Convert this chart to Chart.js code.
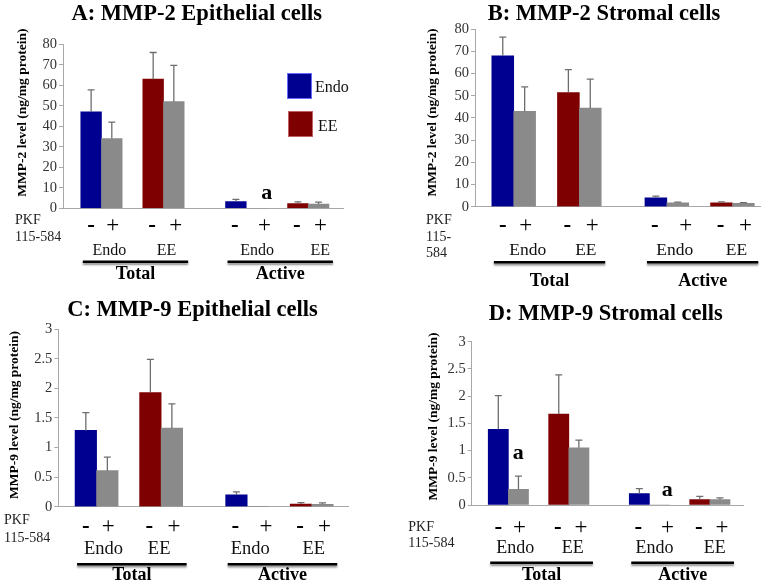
<!DOCTYPE html>
<html lang="en">
<head>
<meta charset="UTF-8">
<title>MMP-2 / MMP-9 levels</title>
<script src="https://cdn.jsdelivr.net/npm/chart.js"></script>
<style>
  body { margin: 0; background: #fff; }
  #wrap { position: relative; width: 774px; height: 585px; }
  canvas { position: absolute; }
</style>
</head>
<body>
<div id="wrap">
  <canvas id="cA" width="387" height="290" style="left:0;top:0"></canvas>
  <canvas id="cB" width="387" height="290" style="left:387px;top:0"></canvas>
  <canvas id="cC" width="387" height="295" style="left:0;top:290px"></canvas>
  <canvas id="cD" width="387" height="295" style="left:387px;top:290px"></canvas>
</div>
<script>
// bar order: Total Endo -, Total Endo +, Total EE -, Total EE +, Active Endo -, Active Endo +, Active EE -, Active EE +
const groups = ['Endo', 'EE', 'Endo', 'EE'];
const blocks = ['Total', 'Active'];
const pkfSigns = ['-', '+'];
const legendLabels = ['Endo', 'EE'];

const mmp2EpiValues = [47, 34, 63, 52, 3.3, 0, 2.3, 2.1];
const mmp2EpiErrTop = [57.8, 42, 76, 69.7, 4.4, 0, 3.1, 3.0];
const mmp2StrValues = [68, 43, 51.5, 44.5, 4, 1.8, 1.8, 1.5];
const mmp2StrErrTop = [76.5, 54, 61.8, 57.5, 4.8, 2.1, 2.2, 1.8];
const mmp9EpiValues = [1.29, 0.61, 1.93, 1.33, 0.2, 0, 0.045, 0.04];
const mmp9EpiErrTop = [1.59, 0.84, 2.49, 1.74, 0.25, 0, 0.07, 0.065];
const mmp9StrValues = [1.39, 0.29, 1.67, 1.05, 0.21, 0, 0.1, 0.1];
const mmp9StrErrTop = [2.01, 0.53, 2.39, 1.19, 0.3, 0, 0.16, 0.13];

const BLUE = '#000090', RED = '#7e0000', GRAY = '#8a8a8a';
const slotColors = [BLUE, GRAY, RED, GRAY, BLUE, GRAY, RED, GRAY];
const serif = '"Liberation Serif", "Times New Roman", serif';
Chart.defaults.font.family = serif;

// slot on the x scale: pairs touch, one empty slot between pairs, two between Total and Active
function slotPos(i) {
  const g = Math.floor(i / 2);
  return g * 3 + (g >= 2 ? 1 : 0) + (i % 2);
}
const signDx = [0, 1, -1, 2, -1, 8, -1, 2];

const panels = [
  { id: 'cA', W: 387, H: 290, title: 'A: MMP-2 Epithelial cells', yTitle: 'MMP-2 level (ng/mg protein)',
    values: mmp2EpiValues, errTop: mmp2EpiErrTop, yMax: 80, yStep: 10,
    axisX: 63, top: 44.3, bottom: 208.3, right: 343, xMin: -1.36, xMax: 12.18,
    titleXY: [196.7, 14], yTitleXY: [22.7, 112.6],
    signY: 226, groupY: 250.7, lineY: 261.7, blockY: 274, groupFont: 16, groupDx: [8, 3, 11, 12],
    pkfX: 15, pkfY: [220.7, 237], pkfLines: ['PKF', '115-584'],
    marks: [[266.7, 193]], legend: true },
  { id: 'cB', W: 387, H: 290, title: 'B: MMP-2 Stromal cells', yTitle: 'MMP-2 level (ng/mg protein)',
    values: mmp2StrValues, errTop: mmp2StrErrTop, yMax: 80, yStep: 10,
    axisX: 88, top: 29.3, bottom: 206.7, right: 373, xMin: -1.27, xMax: 11.76,
    titleXY: [217, 14], yTitleXY: [45.7, 112.5],
    signY: 226, groupY: 250.7, lineY: 262.3, blockY: 281, groupFont: 17.5, groupDx: [14, 6.5, 8, 4],
    pkfX: 39, pkfY: [220, 237, 253.7], pkfLines: ['PKF', '115-', '584'],
    marks: [], legend: false },
  { id: 'cC', W: 387, H: 295, title: 'C: MMP-9 Epithelial cells', yTitle: 'MMP-9 level (ng/mg protein)',
    values: mmp9EpiValues, errTop: mmp9EpiErrTop, yMax: 3, yStep: 0.5,
    axisX: 58.3, top: 39.3, bottom: 216.7, right: 348.3, xMin: -1.28, xMax: 12.2,
    titleXY: [192.5, 20], yTitleXY: [15, 125],
    signY: 237.3, groupY: 259.3, lineY: 274.3, blockY: 285.7, groupFont: 18.5, groupDx: [7, -2, 3, 2],
    pkfX: 4, pkfY: [230, 248.3], pkfLines: ['PKF', '115-584'],
    marks: [], legend: false },
  { id: 'cD', W: 387, H: 295, title: 'D: MMP-9 Stromal cells', yTitle: 'MMP-9 level (ng/mg protein)',
    values: mmp9StrValues, errTop: mmp9StrErrTop, yMax: 3, yStep: 0.5,
    axisX: 84.7, top: 51.7, bottom: 215, right: 356.3, xMin: -1.32, xMax: 12.16,
    titleXY: [218.8, 24], yTitleXY: [46.3, 126.5],
    signY: 238.3, groupY: 258.3, lineY: 272.7, blockY: 285, groupFont: 18, groupDx: [7, 4, 5, 5],
    pkfX: 21.3, pkfY: [237.3, 253.3], pkfLines: ['PKF', '115-584'],
    marks: [[131.3, 163.3], [280.3, 200]], legend: false }
];

function decoPlugin(p) {
  return {
    id: 'deco',
    afterDatasetsDraw(chart) {
      const ctx = chart.ctx, y = chart.scales.y;
      const bars = chart.getDatasetMeta(0).data;
      ctx.save();
      ctx.strokeStyle = '#6e6e6e';
      ctx.lineWidth = 1.3;
      bars.forEach((bar, i) => {
        if (!p.errTop[i]) return;
        const yv = y.getPixelForValue(p.values[i]);
        const ye = y.getPixelForValue(p.errTop[i]);
        ctx.beginPath();
        ctx.moveTo(bar.x, yv);
        ctx.lineTo(bar.x, ye);
        ctx.moveTo(bar.x - 3.5, ye);
        ctx.lineTo(bar.x + 3.5, ye);
        ctx.stroke();
      });
      ctx.restore();
    },
    afterDraw(chart) {
      const ctx = chart.ctx;
      const bars = chart.getDatasetMeta(0).data;
      ctx.save();
      ctx.fillStyle = '#000';
      ctx.textBaseline = 'middle';

      // title
      ctx.textAlign = 'center';
      ctx.font = 'bold 22.5px ' + serif;
      ctx.fillText(p.title, p.titleXY[0], p.titleXY[1]);

      // y title
      ctx.save();
      ctx.translate(p.yTitleXY[0], p.yTitleXY[1]);
      ctx.rotate(-Math.PI / 2);
      ctx.font = 'bold 13.5px ' + serif;
      ctx.fillText(p.yTitle, 0, 0);
      ctx.restore();

      // PKF label
      ctx.textAlign = 'left';
      ctx.font = '14px ' + serif;
      ctx.fillStyle = '#222';
      p.pkfLines.forEach((t, j) => ctx.fillText(t, p.pkfX, p.pkfY[j]));

      // signs under bars
      ctx.textAlign = 'center';
      ctx.fillStyle = '#000';
      bars.forEach((bar, i) => {
        ctx.font = (i % 2 ? '' : 'bold ') + '23px ' + serif;
        ctx.fillText(pkfSigns[i % 2], bar.x + signDx[i], p.signY);
      });

      // group labels
      ctx.font = p.groupFont + 'px ' + serif;
      ctx.fillStyle = '#111';
      groups.forEach((g, k) => {
        const cx = (bars[2 * k].x + bars[2 * k + 1].x) / 2;
        ctx.fillText(g, cx + p.groupDx[k], p.groupY);
      });

      // block underlines + labels
      blocks.forEach((b, k) => {
        const first = bars[4 * k], last = bars[4 * k + 3];
        const x0 = first.x - first.width / 2 + 2;
        const x1 = last.x + last.width / 2 + 4;
        ctx.save();
        ctx.strokeStyle = '#000';
        ctx.lineWidth = 2.5;
        ctx.shadowColor = 'rgba(0,0,0,0.45)';
        ctx.shadowBlur = 2;
        ctx.shadowOffsetY = 2;
        ctx.beginPath();
        ctx.moveTo(x0, p.lineY);
        ctx.lineTo(x1, p.lineY);
        ctx.stroke();
        ctx.restore();
        ctx.font = 'bold 18px ' + serif;
        ctx.fillStyle = '#000';
        ctx.fillText(b, (x0 + x1) / 2, p.blockY);
      });

      // significance marks
      ctx.font = 'bold 22px ' + serif;
      p.marks.forEach(m => ctx.fillText('a', m[0], m[1]));

      // legend
      if (p.legend) {
        const sw = [[287, 73], [288, 111]];
        const cols = [BLUE, RED], edges = ['#6a6aff', '#c06060'];
        const tx = [[315, 88], [318, 127]];
        legendLabels.forEach((l, j) => {
          ctx.fillStyle = cols[j];
          ctx.fillRect(sw[j][0], sw[j][1], 25, 26);
          ctx.strokeStyle = edges[j];
          ctx.lineWidth = 1;
          ctx.strokeRect(sw[j][0] + 0.5, sw[j][1] + 0.5, 24, 25);
          ctx.fillStyle = '#111';
          ctx.textAlign = 'left';
          ctx.font = '16px ' + serif;
          ctx.fillText(l, tx[j][0], tx[j][1]);
        });
      }
      ctx.restore();
    }
  };
}

panels.forEach(p => {
  const points = p.values.map((v, i) => ({ x: slotPos(i), y: v }));
  new Chart(document.getElementById(p.id), {
    type: 'bar',
    data: {
      datasets: [{
        data: points,
        backgroundColor: slotColors,
        borderWidth: 0,
        barPercentage: 1,
        categoryPercentage: 1
      }]
    },
    options: {
      responsive: false,
      animation: false,
      events: [],
      layout: { padding: { left: 0, top: p.top, right: p.W - p.right, bottom: p.H - p.bottom } },
      plugins: { legend: { display: false }, tooltip: { enabled: false } },
      scales: {
        x: {
          type: 'linear', min: p.xMin, max: p.xMax, offset: false,
          grid: { display: false },
          border: { display: true, color: '#a8a8a8', width: 1 },
          ticks: { display: false },
          afterFit: s => { s.height = 0; }
        },
        y: {
          min: 0, max: p.yMax,
          ticks: { stepSize: p.yStep, color: '#333', padding: 2, font: { family: serif, size: 14.5 },
                   callback: v => String(v) },
          grid: { drawOnChartArea: false, drawTicks: true, tickLength: 4, color: '#a8a8a8' },
          border: { display: true, color: '#a8a8a8', width: 1 },
          afterFit: s => { s.width = p.axisX; }
        }
      }
    },
    plugins: [decoPlugin(p)]
  });
});
</script>
</body>
</html>
